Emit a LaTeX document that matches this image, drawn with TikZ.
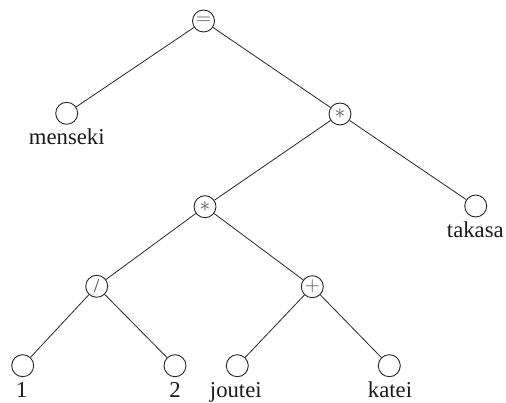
\documentclass[tikz,border=0pt]{standalone}
\usepackage{fontspec}
\setmainfont{Liberation Serif}
\begin{document}
\begin{tikzpicture}[x=1pt,y=-1pt,
  op/.style={circle,draw=black!85,line width=0.9pt,minimum size=22pt,inner sep=0pt,
    font=\fontsize{20}{20}\selectfont,text=black!70},
  leaf/.style={circle,draw=black!85,line width=0.9pt,minimum size=22pt,inner sep=0pt},
  lbl/.style={anchor=base,inner sep=0pt,font=\fontsize{22.7}{24}\selectfont,text=black!90},
  edge/.style={draw=black!85,line width=0.8pt}]
\useasboundingbox (0,0) rectangle (506,403);
\node[op] (eq) at (203.5,21) {$=$};
\node[leaf] (men) at (66.7,113.3) {};
\node[op] (s1) at (340,114) {$*$};
\node[leaf] (tak) at (475.7,206) {};
\node[op] (s2) at (205,206.7) {$*$};
\node[op] (dv) at (96.7,286.3) {/};
\node[op] (pl) at (312.3,286.7) {$+$};
\node[leaf] (l1) at (22.7,365.7) {};
\node[leaf] (l2) at (175,365.7) {};
\node[leaf] (jo) at (237.3,365.7) {};
\node[leaf] (ka) at (389.3,365.7) {};
\node[lbl] (tmen) at (66.8,144.5) {menseki};
\node[lbl] (ttak) at (475.3,237.5) {takasa};
\node[lbl] (t1) at (21.7,397) {1};
\node[lbl] (t2) at (175,397) {2};
\node[lbl] (tjo) at (235.8,397) {joutei};
\node[lbl] (tka) at (390,397) {katei};
\draw[edge] (eq) -- (men);
\draw[edge] (eq) -- (s1);
\draw[edge] (s1) -- (s2);
\draw[edge] (s1) -- (tak);
\draw[edge] (s2) -- (dv);
\draw[edge] (s2) -- (pl);
\draw[edge] (dv) -- (l1);
\draw[edge] (dv) -- (l2);
\draw[edge] (pl) -- (jo);
\draw[edge] (pl) -- (ka);
\end{tikzpicture}
\end{document}
